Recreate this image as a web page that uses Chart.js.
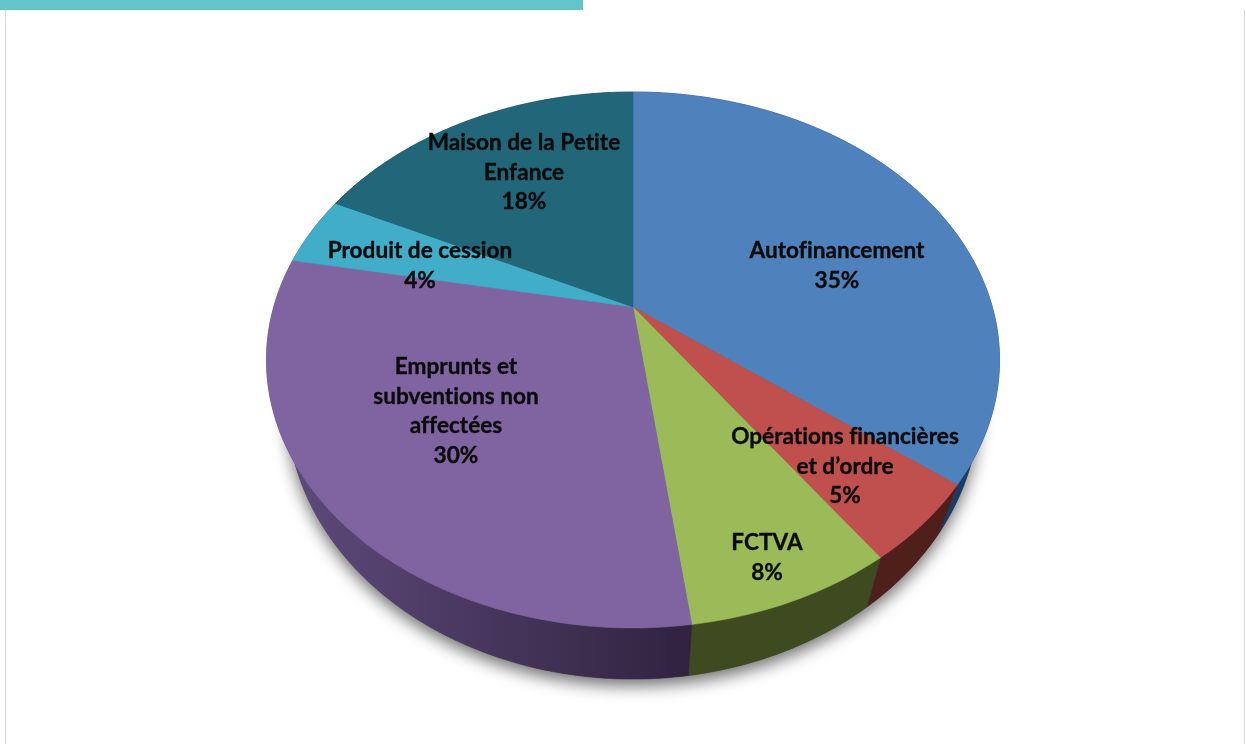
<!DOCTYPE html>
<html lang="fr">
<head>
<meta charset="utf-8">
<script src="https://cdn.jsdelivr.net/npm/chart.js@4"></script>
<style>
html,body{margin:0;padding:0;background:#fff;overflow:hidden}
#wrap{position:relative;width:1246px;height:744px;background:#fff;overflow:hidden}
#bar{position:absolute;left:0;top:0;width:583px;height:10px;background:#64c4cb}
.rule{position:absolute;top:10px;bottom:0;width:1px;background:#dcdcdc}
canvas{position:absolute;left:0;top:0}
</style>
</head>
<body>
<div id="wrap">
<div id="bar"></div>
<div class="rule" style="left:5px"></div>
<div class="rule" style="left:1244px"></div>
<canvas id="c" width="1246" height="744"></canvas>
</div>
<script>
const categories = ["Autofinancement", "Opérations financières\net d’ordre", "FCTVA", "Emprunts et\nsubventions non\naffectées", "Produit de cession", "Maison de la Petite\nEnfance"];
const values = [35.4, 4.8, 7.7, 30.1, 4.2, 17.8];
const sliceColors = ["#4f81bd", "#c0504d", "#9bbb59", "#8064a2", "#41adc9", "#216679"];
const sideColors = ["#1b3c62", "#4f1f1c", "#3e4a20", null, "#2a7288", "#133f4c"];
const labelAnchors = [[837,251],[845,437],[767,543],[456,367],[420,251],[524,143]];

const K = 0.1977, XS = 1.1704, YS = 0.8388, LINE = 29.5;

function project(el, a){
  const u = Math.cos(a), v = -Math.sin(a), d = 1 + K * v, r = el.outerRadius;
  return [el.x + r * XS * u / d, el.y - r * YS * v / d];
}
function lower(el, p){
  return [p[0] - (p[0] - el.x) * 0.056, p[1] + 48 + (p[1] - 485) * 0.022];
}
function edge(el){
  const pts = [], n = Math.max(8, Math.ceil((el.endAngle - el.startAngle) * 60));
  for (let i = 0; i <= n; i++) pts.push(project(el, el.startAngle + (el.endAngle - el.startAngle) * i / n));
  return pts;
}
const pie3d = {
  id: 'pie3d',
  beforeDatasetsDraw(chart){
    const ctx = chart.ctx, arcs = chart.getDatasetMeta(0).data;
    ctx.save();
    // soft shadow beneath the lower rim
    ctx.save();
    ctx.shadowColor = 'rgba(0,0,0,0.55)';
    ctx.shadowBlur = 16;
    ctx.shadowOffsetY = 7;
    ctx.fillStyle = '#555';
    ctx.beginPath();
    arcs.forEach(el => edge(el).forEach((p, i) => {
      const q = lower(el, p);
      ctx.lineTo(q[0], q[1]);
    }));
    ctx.closePath();
    ctx.fill();
    ctx.restore();
    // rim
    arcs.forEach((el, idx) => {
      const top = edge(el), bot = top.map(p => lower(el, p));
      let fill = sideColors[idx];
      if (!fill) {
        const g = ctx.createLinearGradient(285, 0, 690, 0);
        g.addColorStop(0, '#5e4a7c');
        g.addColorStop(0.45, '#4a3860');
        g.addColorStop(1, '#30233f');
        fill = g;
      }
      ctx.fillStyle = fill; ctx.strokeStyle = fill; ctx.lineWidth = 0.5;
      ctx.beginPath();
      top.forEach(p => ctx.lineTo(p[0], p[1]));
      bot.reverse().forEach(p => ctx.lineTo(p[0], p[1]));
      ctx.closePath();
      ctx.fill(); ctx.stroke();
    });
    // top face
    arcs.forEach(el => {
      ctx.fillStyle = el.options.backgroundColor;
      ctx.strokeStyle = el.options.backgroundColor;
      ctx.lineWidth = 0.5;
      ctx.beginPath();
      ctx.moveTo(el.x, el.y);
      edge(el).forEach(p => ctx.lineTo(p[0], p[1]));
      ctx.closePath();
      ctx.fill(); ctx.stroke();
    });
    ctx.restore();
    return false;
  },
  afterDraw(chart){
    const ctx = chart.ctx;
    ctx.save();
    ctx.font = 'bold 22.6px Lato';
    ctx.letterSpacing = '0.01px';
    ctx.fillStyle = '#0b0b0b';
    ctx.strokeStyle = '#0b0b0b';
    ctx.lineWidth = 0.35;
    ctx.textAlign = 'center';
    ctx.textBaseline = 'middle';
    chart.data.labels.forEach((label, i) => {
      const lines = label.split('\n').concat(Math.round(values[i]) + '%');
      lines.forEach((t, j) => {
        const x = labelAnchors[i][0], y = labelAnchors[i][1] + j * LINE;
        ctx.fillText(t, x, y);
        ctx.strokeText(t, x, y);
      });
    });
    ctx.restore();
  }
};
new Chart(document.getElementById('c'), {
  type: 'pie',
  data: { labels: categories, datasets: [{ data: values, backgroundColor: sliceColors, borderWidth: 0 }] },
  options: {
    responsive: false,
    animation: false,
    devicePixelRatio: 1,
    layout: { padding: { left: 20, bottom: 130 } },
    plugins: { legend: { display: false }, tooltip: { enabled: false } }
  },
  plugins: [pie3d]
});
</script>
</body>
</html>
